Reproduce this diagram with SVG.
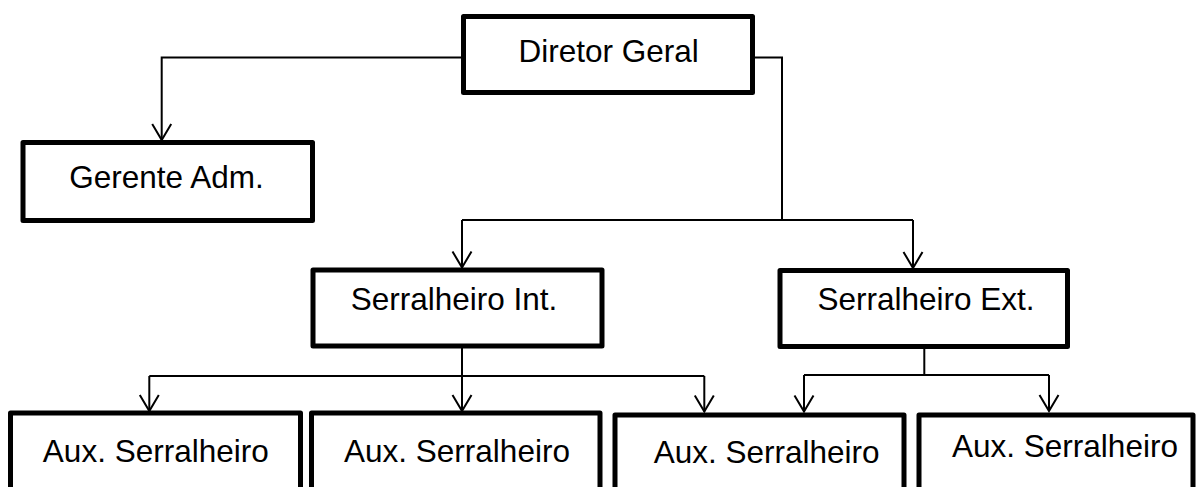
<svg xmlns="http://www.w3.org/2000/svg" width="1198" height="487" viewBox="0 0 1198 487">
<style>
.box{fill:#fff;stroke:#000;stroke-width:5;stroke-linejoin:round}
.lbl{font-family:"Liberation Sans",Arial,sans-serif;font-size:31.5px;fill:#000;text-anchor:middle}
.con{fill:none;stroke:#000;stroke-width:2}
</style>
<defs>
<marker id="arr" markerUnits="userSpaceOnUse" viewBox="-18 -12 20 24" markerWidth="20" markerHeight="24" refX="0" refY="0" orient="auto">
<path d="M-16,-9.5 L0,0 L-16,9.5" fill="none" stroke="#000" stroke-width="2"/>
</marker>
</defs>
<rect width="1198" height="487" fill="#fff"/>
<g id="connectors">
<path class="con" d="M461,57.5 H161.7 V140" marker-end="url(#arr)"/>
<path class="con" d="M755,57.5 H782 V220"/>
<path class="con" d="M462,220 H913"/>
<path class="con" d="M462,220 V267.5" marker-end="url(#arr)"/>
<path class="con" d="M913,220 V268" marker-end="url(#arr)"/>
<path class="con" d="M462,348 V376"/>
<path class="con" d="M149.3,376 H704.3"/>
<path class="con" d="M149.3,376 V411" marker-end="url(#arr)"/>
<path class="con" d="M462,376 V411" marker-end="url(#arr)"/>
<path class="con" d="M704.3,376 V411.5" marker-end="url(#arr)"/>
<path class="con" d="M924.3,349 V375"/>
<path class="con" d="M804,375 H1049"/>
<path class="con" d="M804,375 V411.5" marker-end="url(#arr)"/>
<path class="con" d="M1049,375 V411" marker-end="url(#arr)"/>
</g>
<g id="diretor">
<rect class="box" x="463.5" y="16.5" width="289" height="76"/>
<text class="lbl" x="608.7" y="61.5">Diretor Geral</text>
</g>
<g id="gerente">
<rect class="box" x="23" y="142.5" width="289.5" height="78"/>
<text class="lbl" x="166.5" y="188">Gerente Adm.</text>
</g>
<g id="serralheiro-int">
<rect class="box" x="313" y="270" width="289" height="76"/>
<text class="lbl" x="454" y="310">Serralheiro Int.</text>
</g>
<g id="serralheiro-ext">
<rect class="box" x="780" y="270.5" width="287.5" height="76"/>
<text class="lbl" x="926" y="310">Serralheiro Ext.</text>
</g>
<g id="aux1">
<rect class="box" x="10.5" y="413" width="290" height="100"/>
<text class="lbl" x="155.8" y="461.7">Aux. Serralheiro</text>
</g>
<g id="aux2">
<rect class="box" x="311.5" y="413" width="288.5" height="100"/>
<text class="lbl" x="457" y="461.7">Aux. Serralheiro</text>
</g>
<g id="aux3">
<rect class="box" x="615" y="415" width="289" height="100"/>
<text class="lbl" x="766.7" y="463.3">Aux. Serralheiro</text>
</g>
<g id="aux4">
<rect class="box" x="919" y="415" width="274" height="100"/>
<text class="lbl" x="1065" y="456.7">Aux. Serralheiro</text>
</g>
</svg>
